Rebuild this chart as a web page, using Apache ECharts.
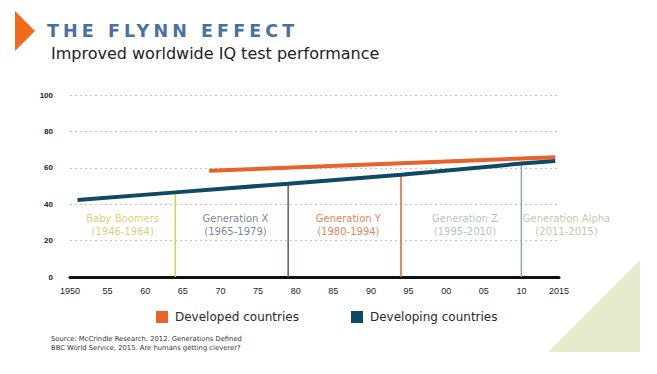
<!DOCTYPE html>
<html><head><meta charset="utf-8">
<script src="https://cdn.jsdelivr.net/npm/echarts@6/dist/echarts.min.js"></script>
<style>html,body{margin:0;padding:0;background:#fff}#c{width:657px;height:374px}</style>
</head><body><div id="c"></div>
<script>
// ---- data ----
const developedYears  = [1968.5, 2014.5];
const developedValues = [58.4, 65.8];
const developingYears  = [1951, 1964, 1979, 1994, 2010, 2014.5];
const developingValues = [42.3, 46.5, 51.3, 56.2, 62.3, 63.7];
const generationNames   = ['Baby Boomers', 'Generation X', 'Generation Y', 'Generation Z', 'Generation Alpha'];
const generationPeriods = ['(1946-1964)', '(1965-1979)', '(1980-1994)', '(1995-2010)', '(2011-2015)'];
const generationStart   = [1950, 1965, 1980, 1995, 2011];
const generationEnd     = [1964, 1979, 1994, 2010, 2021];
const boundaryYears = [1964, 1979, 1994, 2010];
const boundaryTops  = [46.5, 51.3, 56.2, 62.0];
const yTicks = [0, 20, 40, 60, 80, 100];
const xTickLabels = {1950:'1950',1955:'55',1960:'60',1965:'65',1970:'70',1975:'75',1980:'80',1985:'85',1990:'90',1995:'95',2000:'00',2005:'05',2010:'10',2015:'2015'};
const seriesNames = ['Developed countries', 'Developing countries'];
const sourceLines = ['Source: McCrindle Research, 2012. Generations Defined', 'BBC World Service, 2015. Are humans getting cleverer?'];
const TITLE = 'THE FLYNN EFFECT';
const SUBTITLE = 'Improved worldwide IQ test performance';

// ---- styles ----
const genColors = ['#cfc556', '#55637f', '#e0622a', '#9fb0bd', '#b4b996'];
const boundaryColors = ['#d8cc4a', '#4d5d7d', '#e0622a', '#8ea7b6'];
const ORANGE = '#e8622a', TEAL = '#0e4a66';

const chart = echarts.init(document.getElementById('c'), null, {renderer: 'svg'});

const series = [
  {name: seriesNames[0], type: 'line', data: developedYears.map((x, i) => [x, developedValues[i]]),
   symbol: 'none', lineStyle: {color: ORANGE, width: 4}, itemStyle: {color: ORANGE}, z: 5},
  {name: seriesNames[1], type: 'line', data: developingYears.map((x, i) => [x, developingValues[i]]),
   symbol: 'none', lineStyle: {color: TEAL, width: 4}, itemStyle: {color: TEAL}, z: 5}
];
boundaryYears.forEach((yr, i) => {
  series.push({type: 'line', data: [[yr, 0], [yr, boundaryTops[i]]], symbol: 'none', silent: true,
    lineStyle: {color: boundaryColors[i], width: 1.5}, z: 3});
});
series.push({
  type: 'scatter', symbolSize: 0, silent: true, clip: false, z: 4,
  data: generationNames.map((n, i) => ({
    value: [(generationStart[i] + generationEnd[i]) / 2, 28.5],
    label: {show: true, position: 'inside', formatter: n + '\n' + generationPeriods[i],
      color: genColors[i], fontFamily: 'DejaVu Sans', fontSize: 10, lineHeight: 12.5, align: 'center'}
  }))
});

chart.setOption({
  animation: false,
  backgroundColor: '#ffffff',
  grid: {left: 70, right: 98, top: 95, bottom: 97},
  legend: {
    data: seriesNames, left: 151, top: 306, icon: 'rect', itemWidth: 12, itemHeight: 12, itemGap: 52,
    textStyle: {fontFamily: 'DejaVu Sans', fontSize: 12, color: '#2a2a2a', padding: [0, 0, 0, 2]},
    selectedMode: false
  },
  xAxis: {
    type: 'value', min: 1950, max: 2015, interval: 5,
    axisLine: {show: true, lineStyle: {color: '#111', width: 3}},
    axisTick: {show: false}, splitLine: {show: false},
    axisLabel: {formatter: v => xTickLabels[v] || '', fontFamily: 'Liberation Sans', fontSize: 9, color: '#222', margin: 9}
  },
  yAxis: {
    type: 'value', min: yTicks[0], max: yTicks[yTicks.length - 1], interval: 20,
    axisLine: {show: false}, axisTick: {show: false},
    splitLine: {lineStyle: {color: '#c4c4c4', type: [2, 3], width: 1}},
    axisLabel: {fontFamily: 'Liberation Sans', fontWeight: 'bold', fontSize: 8, color: '#222', margin: 17}
  },
  series: series,
  graphic: [
    {type: 'polygon', shape: {points: [[15, 11], [35, 31], [15, 51]]}, style: {fill: '#f26a1c'}},
    {type: 'polygon', shape: {points: [[640, 260], [640, 352], [548, 352]]}, style: {fill: '#e7ebcd'}, z: -1},
    {type: 'text', left: 47, top: 22, style: {text: TITLE, font: 'bold 17.5px "DejaVu Sans"', fill: '#4a70a3'}},
    {type: 'text', left: 51, top: 45, style: {text: SUBTITLE, font: '16px "DejaVu Sans"', fill: '#222'}},
    {type: 'text', left: 51, top: 335, style: {text: sourceLines.join('\n'), font: '6.8px "DejaVu Sans"', lineHeight: 8.5, fill: '#333'}}
  ]
});

// letter-spaced title (SVG text attribute)
function spaceTitle() {
  document.querySelectorAll('#c svg text').forEach(t => {
    if (t.textContent === TITLE) t.setAttribute('letter-spacing', '4.1');
  });
}
spaceTitle();
chart.on('finished', spaceTitle);
setTimeout(spaceTitle, 50);
</script></body></html>
